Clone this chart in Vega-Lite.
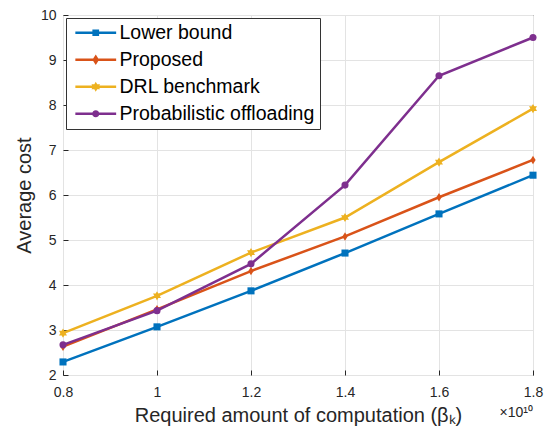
{
  "$schema": "https://vega.github.io/schema/vega-lite/v6.json",
  "width": 470,
  "height": 360,
  "autosize": "none",
  "padding": {"left": 63, "top": 15, "right": 17, "bottom": 59},
  "background": "white",
  "config": {
    "font": "Liberation Sans",
    "view": {"stroke": "#262626", "strokeWidth": 1},
    "axis": {
      "labelFont": "Liberation Sans",
      "titleFont": "Liberation Sans",
      "labelColor": "#262626",
      "titleColor": "#262626",
      "labelFontSize": 14,
      "titleFontSize": 20,
      "titleFontWeight": "normal",
      "gridColor": "#e3e3e3",
      "gridWidth": 1,
      "domain": false,
      "tickColor": "#262626",
      "tickSize": -5,
      "labelPadding": 12
    }
  },
  "datasets": {
    "series": [
      {"x": 0.8, "y": 2.29, "s": "Lower bound"},
      {"x": 1.0, "y": 3.07, "s": "Lower bound"},
      {"x": 1.2, "y": 3.87, "s": "Lower bound"},
      {"x": 1.4, "y": 4.71, "s": "Lower bound"},
      {"x": 1.6, "y": 5.58, "s": "Lower bound"},
      {"x": 1.8, "y": 6.44, "s": "Lower bound"},
      {"x": 0.8, "y": 2.63, "s": "Proposed"},
      {"x": 1.0, "y": 3.46, "s": "Proposed"},
      {"x": 1.2, "y": 4.31, "s": "Proposed"},
      {"x": 1.4, "y": 5.08, "s": "Proposed"},
      {"x": 1.6, "y": 5.95, "s": "Proposed"},
      {"x": 1.8, "y": 6.78, "s": "Proposed"},
      {"x": 0.8, "y": 2.93, "s": "DRL benchmark"},
      {"x": 1.0, "y": 3.76, "s": "DRL benchmark"},
      {"x": 1.2, "y": 4.72, "s": "DRL benchmark"},
      {"x": 1.4, "y": 5.50, "s": "DRL benchmark"},
      {"x": 1.6, "y": 6.73, "s": "DRL benchmark"},
      {"x": 1.8, "y": 7.92, "s": "DRL benchmark"},
      {"x": 0.8, "y": 2.67, "s": "Probabilistic offloading"},
      {"x": 1.0, "y": 3.43, "s": "Probabilistic offloading"},
      {"x": 1.2, "y": 4.47, "s": "Probabilistic offloading"},
      {"x": 1.4, "y": 6.22, "s": "Probabilistic offloading"},
      {"x": 1.6, "y": 8.65, "s": "Probabilistic offloading"},
      {"x": 1.8, "y": 9.50, "s": "Probabilistic offloading"}
    ],
    "note": [{"x": 1.8, "y": 2, "t": "×10¹⁰"}]
  },
  "data": {"name": "series"},
  "resolve": {"scale": {"shape": "independent", "color": "independent"}, "legend": {"color": "independent", "shape": "independent"}},
  "layer": [
    {
      "mark": {"type": "line", "strokeWidth": 2.5},
      "encoding": {
        "x": {
          "field": "x", "type": "quantitative",
          "scale": {"domain": [0.8, 1.8], "nice": false, "zero": false},
          "axis": {"values": [0.8, 1.0, 1.2, 1.4, 1.6, 1.8], "labelExpr": "datum.value == 1 ? '1' : format(datum.value, '.1f')", "title": "Required amount of computation (βₖ)", "titlePadding": 6, "labelFlush": false, "labelPadding": 15}
        },
        "y": {
          "field": "y", "type": "quantitative",
          "scale": {"domain": [2, 10], "nice": false, "zero": false},
          "axis": {"values": [2, 3, 4, 5, 6, 7, 8, 9, 10], "title": "Average cost", "titlePadding": 6, "labelFlush": false}
        },
        "color": {
          "field": "s", "type": "nominal",
          "scale": {"domain": ["Lower bound", "Proposed", "DRL benchmark", "Probabilistic offloading"], "range": ["#0072BD", "#D95319", "#EDB120", "#7E2F8E"]},
          "legend": null
        }
      }
    },
    {
      "mark": {"type": "point", "filled": true, "opacity": 1, "size": 50},
      "encoding": {
        "x": {"field": "x", "type": "quantitative"},
        "y": {"field": "y", "type": "quantitative"},
        "color": {
          "field": "s", "type": "nominal",
          "scale": {"domain": ["Lower bound", "Proposed", "DRL benchmark", "Probabilistic offloading"], "range": ["#0072BD", "#D95319", "#EDB120", "#7E2F8E"]},
          "legend": null
        },
        "shape": {
          "field": "s", "type": "nominal",
          "scale": {"domain": ["Lower bound", "Proposed", "DRL benchmark", "Probabilistic offloading"], "range": ["square", "M0,-1.2L0.75,0L0,1.2L-0.75,0Z", "M0,-1.3L0.375,-0.65L1.126,-0.65L0.75,0L1.126,0.65L0.375,0.65L0,1.3L-0.375,0.65L-1.126,0.65L-0.75,0L-1.126,-0.65L-0.375,-0.65Z", "circle"]},
          "legend": null
        }
      }
    },
    {
      "mark": {"type": "point", "filled": true, "opacity": 0, "size": 256},
      "encoding": {
        "x": {"field": "x", "type": "quantitative"},
        "y": {"field": "y", "type": "quantitative"},
        "color": {
          "field": "s", "type": "nominal",
          "scale": {"domain": ["Lower bound", "Proposed", "DRL benchmark", "Probabilistic offloading"], "range": ["#0072BD", "#D95319", "#EDB120", "#7E2F8E"]},
          "legend": {
            "title": null,
            "orient": "none",
            "legendX": 3,
            "legendY": 3,
            "fillColor": "white",
            "strokeColor": "#333333",
            "padding": 5,
            "labelFontSize": 19.5,
            "labelFont": "Liberation Sans",
            "labelColor": "#000000",
            "rowPadding": 6,
            "symbolOffset": 15,
            "labelOffset": 14,
            "symbolOpacity": 1,
            "symbolStrokeWidth": 0,
            "symbolSize": 256,
            "labelLimit": 400
          }
        },
        "shape": {
          "field": "s", "type": "nominal",
          "scale": {"domain": ["Lower bound", "Proposed", "DRL benchmark", "Probabilistic offloading"], "range": [
            "M-2.55,-0.16H2.55V0.16H-2.55ZM-0.42,-0.42H0.42V0.42H-0.42Z",
            "M-2.55,-0.16H2.55V0.16H-2.55ZM0,-0.65L0.42,0L0,0.65L-0.42,0Z",
            "M-2.55,-0.16H2.55V0.16H-2.55ZM0,-0.62L0.18,-0.31L0.537,-0.31L0.36,0L0.537,0.31L0.18,0.31L0,0.62L-0.18,0.31L-0.537,0.31L-0.36,0L-0.537,-0.31L-0.18,-0.31Z",
            "M-2.55,-0.16H2.55V0.16H-2.55ZM0.45,0A0.45,0.45,0,1,1,-0.45,0A0.45,0.45,0,1,1,0.45,0Z"
          ]},
          "legend": {
            "title": null,
            "orient": "none",
            "legendX": 3,
            "legendY": 3,
            "fillColor": "white",
            "strokeColor": "#333333",
            "padding": 5,
            "labelFontSize": 19.5,
            "labelFont": "Liberation Sans",
            "labelColor": "#000000",
            "rowPadding": 6,
            "symbolOffset": 15,
            "labelOffset": 14,
            "symbolOpacity": 1,
            "symbolStrokeWidth": 0,
            "symbolSize": 256,
            "labelLimit": 400
          }
        }
      }
    },
    {
      "data": {"name": "note"},
      "mark": {"type": "text", "align": "right", "baseline": "top", "dy": 31, "dx": 0, "fontSize": 14, "color": "#262626", "font": "Liberation Sans"},
      "encoding": {
        "x": {"field": "x", "type": "quantitative"},
        "y": {"field": "y", "type": "quantitative"},
        "text": {"field": "t"}
      }
    }
  ]
}
